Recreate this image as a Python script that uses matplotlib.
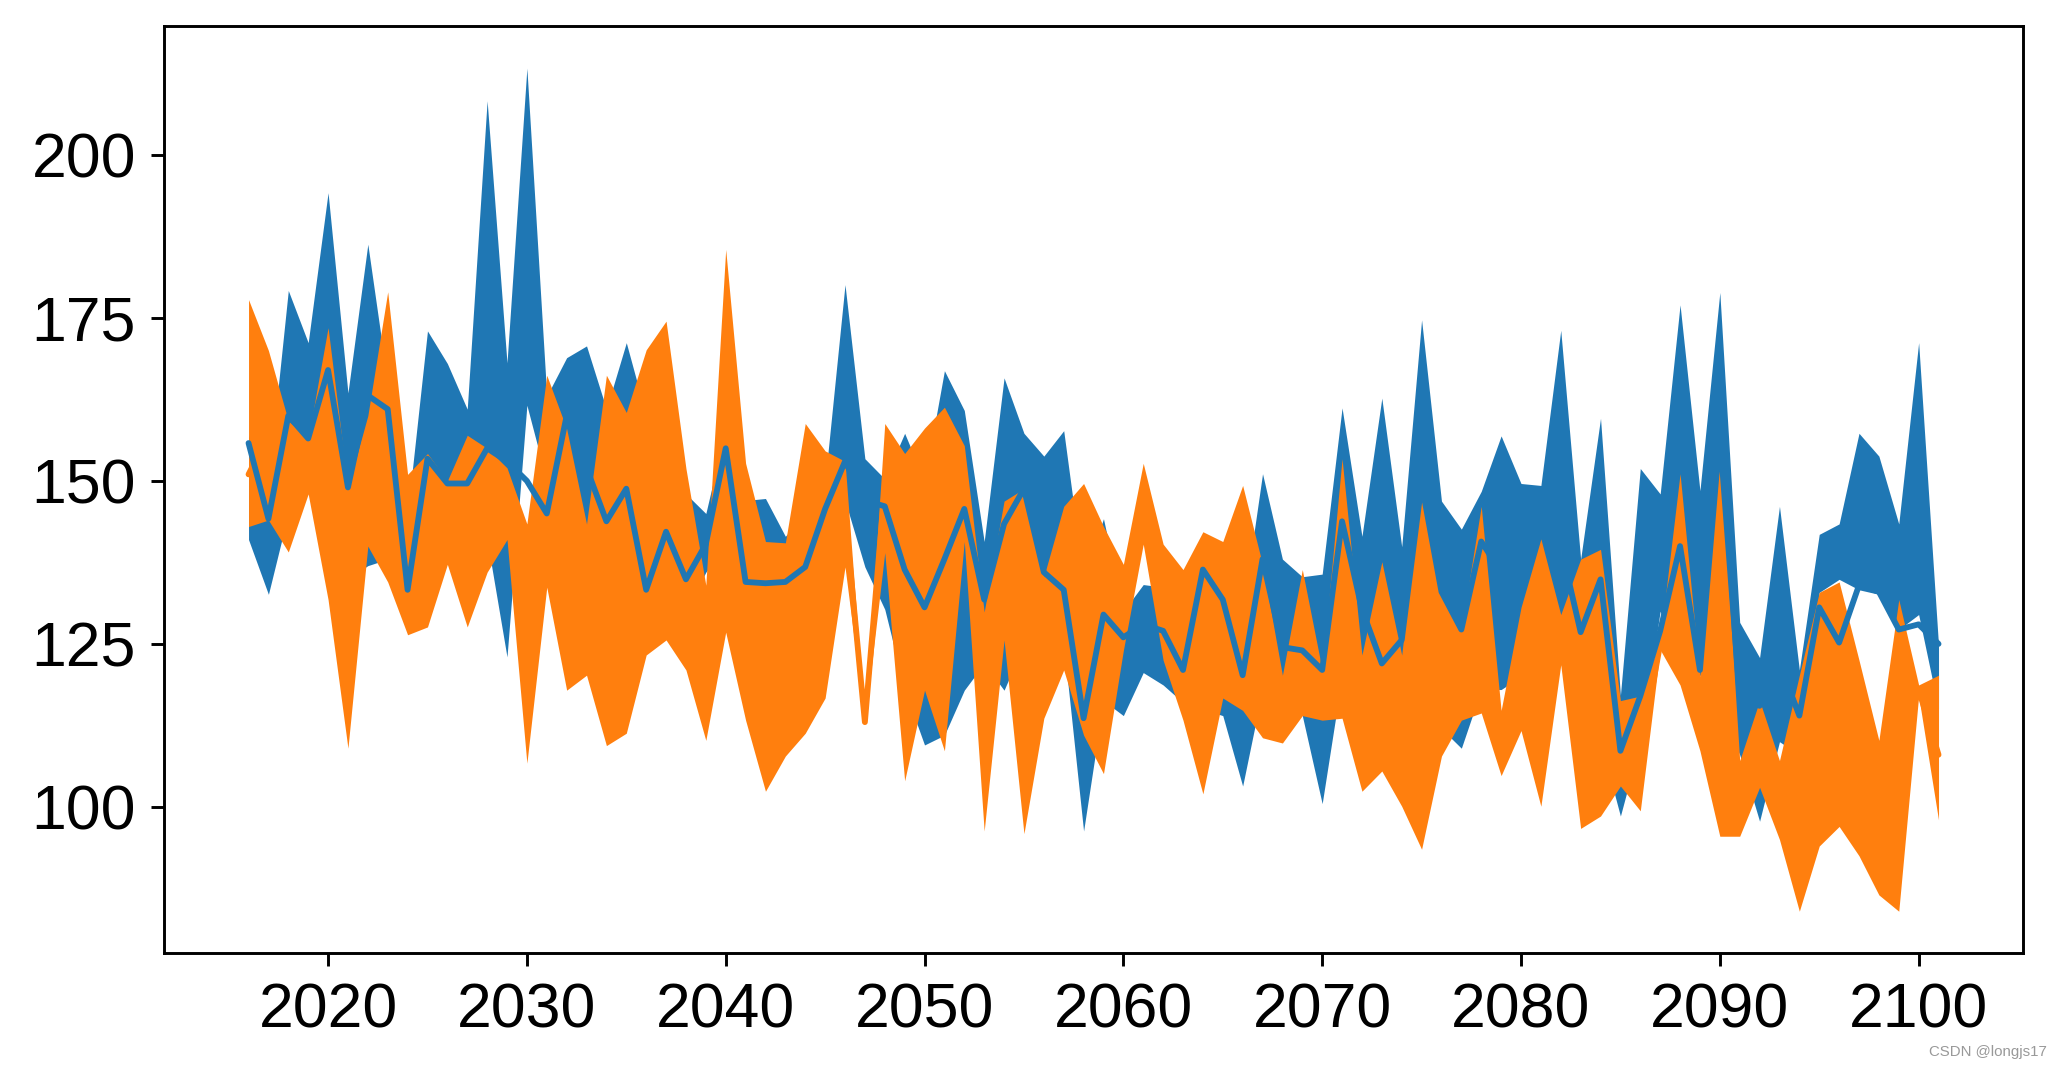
import numpy as np
import matplotlib
matplotlib.use('Agg')
import matplotlib.pyplot as plt

plt.rcParams['font.family'] = ['Liberation Sans', 'DejaVu Sans']

years = np.arange(2016, 2102)

# blue band (upper / lower) and its mean line
blue_upper = [157, 150, 179.2, 171.2, 194.2, 163.5, 186.3, 165, 145, 173,
              168, 161, 208.3, 168.1, 213.3, 163, 168.9, 170.7, 161, 171.2,
              160, 158, 148, 145, 158, 147, 147.3, 141.5, 145, 150,
              180.1, 153.4, 150.3, 157.3, 150, 166.9, 160.8, 140.7, 165.8, 157.3,
              153.8, 157.7, 135, 144.2, 130, 134.1, 133.7, 128, 138, 136,
              130, 151.1, 138, 135.3, 135.7, 161.2, 141.5, 162.7, 139.9, 174.7,
              146.9, 142.6, 148.4, 156.9, 149.6, 149.3, 173.1, 138, 159.6, 117.1,
              151.9, 148, 177, 148.5, 178.9, 128.3, 122.9, 146.1, 121, 141.8,
              143.4, 157.3, 153.8, 143.4, 171.2, 124.8]
blue_lower = [141, 132.6, 145, 150, 140, 135, 137, 138, 130, 140,
              140, 138, 141, 123, 161.6, 150, 143, 143, 145, 140,
              135, 137, 130, 136, 140, 138, 131, 133, 132, 140,
              147, 136.8, 130.3, 118, 109.5, 111, 117.9, 122, 117.9, 125,
              125, 125, 96.3, 116.3, 114, 120.6, 118.7, 116, 115, 114,
              103.2, 118, 116, 114, 100.5, 120, 115, 115, 112, 115,
              112, 109, 118, 118, 120, 116, 125, 115, 110, 98.6,
              110, 130, 122, 120.2, 115, 108, 97.8, 110, 108, 132.9,
              134.9, 133.3, 132.6, 127.2, 129.5, 115]
blue_mean = [155.8, 144.2, 160, 156.5, 167, 149, 163.1, 161, 133.3, 153.4,
             149.6, 149.6, 155, 153, 150, 145, 160, 152, 143.8, 148.8,
             133.3, 142.2, 134.9, 140.3, 155, 134.5, 134.3, 134.5, 136.8, 145.7,
             153, 147, 146.1, 136.4, 130.6, 138, 145.7, 131.8, 143.4, 148.8,
             136, 133.3, 113.6, 129.5, 126, 128, 127, 121, 136.4, 131.8,
             120.2, 138, 124.5, 124, 121, 143.8, 130.3, 122, 125.6, 149.6,
             133, 127.2, 140.7, 136, 144, 144, 140, 126.8, 134.9, 108.6,
             117, 127, 140, 121, 157, 117, 115.5, 122, 114, 130.6,
             125.2, 134, 133, 127.2, 128, 125]

# orange band (upper / lower) and its mean line
orange_upper = [177.8, 170, 159.2, 156.5, 173.5, 149, 160, 179, 151, 154.2,
                150, 157, 155, 152, 143.4, 166.2, 158, 143.4, 166.2, 160.5,
                170.1, 174.5, 151.9, 134, 185.5, 152.7, 140.7, 140.5, 158.8, 154.6,
                153, 112.9, 158.8, 154.2, 158.1, 161.3, 155.4, 129.9, 146.9, 148.8,
                135.3, 146.1, 149.6, 143, 137.2, 152.7, 140.3, 136.4, 142.2, 140.7,
                149.3, 137.2, 120.2, 136.4, 121, 153.4, 123.3, 137.6, 123.3, 149.6,
                132.6, 127.2, 146.1, 114.8, 130.6, 141.1, 129.5, 138, 139.5, 116.3,
                117, 125.6, 151.1, 120, 155, 107.1, 116.3, 107.1, 120.2, 132.9,
                134.5, 122.5, 110.2, 131.8, 118.7, 120.2]
orange_lower = [143, 144, 139.1, 148, 131.8, 109, 140, 134.5, 126.4, 127.6,
                137.2, 127.6, 136, 141, 106.7, 133.7, 117.9, 120.2, 109.4, 111.3,
                123.3, 125.6, 121, 110.2, 126.8, 113.3, 102.4, 107.8, 111.3, 116.7,
                136.8, 112.9, 139, 104, 117.9, 108.6, 140.7, 96.3, 125.6, 95.9,
                113.6, 121, 111, 105.1, 124, 140.3, 122.5, 113.3, 102, 116.7,
                114.8, 110.6, 109.8, 114, 113.3, 113.6, 102.4, 105.5, 100.1, 93.5,
                107.8, 113.3, 114.4, 104.8, 111.7, 100.1, 121.8, 96.7, 98.6, 103.2,
                99.4, 124.1, 118.7, 108.6, 95.5, 95.5, 103, 95, 84, 94,
                97, 92.5, 86.5, 84, 117, 98]
orange_mean = [151, 157, 149, 152, 153, 129, 150, 157, 139, 141,
               144, 142, 146, 147, 125, 150, 138, 132, 138, 136,
               147, 150, 136, 122, 156, 133, 121, 124, 135, 136,
               145, 113, 149, 129, 138, 135, 148, 113, 136, 122,
               124, 134, 130, 124, 131, 146, 131, 125, 122, 129,
               132, 124, 115, 125, 117, 133, 113, 122, 112, 122,
               120, 120, 130, 110, 121, 121, 126, 117, 119, 110,
               108, 125, 135, 114, 125, 101, 110, 101, 102, 113,
               116, 108, 98, 108, 118, 108]

fig = plt.figure(figsize=(2053 / 300, 1070 / 300), dpi=300)
ax = fig.add_axes([0.0799, 0.1090, 0.9055, 0.8667])

# draw order: blue band, orange mean (mostly hidden), orange band, blue mean on top
ax.fill_between(years, blue_lower, blue_upper, color='#1f77b4', linewidth=0, zorder=1)
ax.plot(years, orange_mean, color='#ff7f0e', linewidth=1.4,
        solid_capstyle='round', zorder=2)
ax.fill_between(years, orange_lower, orange_upper, color='#ff7f0e', linewidth=0, zorder=3)
ax.plot(years, blue_mean, color='#1f77b4', linewidth=1.4,
        solid_capstyle='round', zorder=4)

ax.set_yticks([100, 125, 150, 175, 200])
ax.set_xticks([2020, 2030, 2040, 2050, 2060, 2070, 2080, 2090, 2100])
ax.tick_params(labelsize=15, width=0.7, length=3.2)
for s in ax.spines.values():
    s.set_linewidth(0.7)

fig.text(0.997, 0.017, 'CSDN @longjs17', fontsize=3.6, color='#999999',
         ha='right', va='center')

fig.savefig('out.png', dpi=300)
